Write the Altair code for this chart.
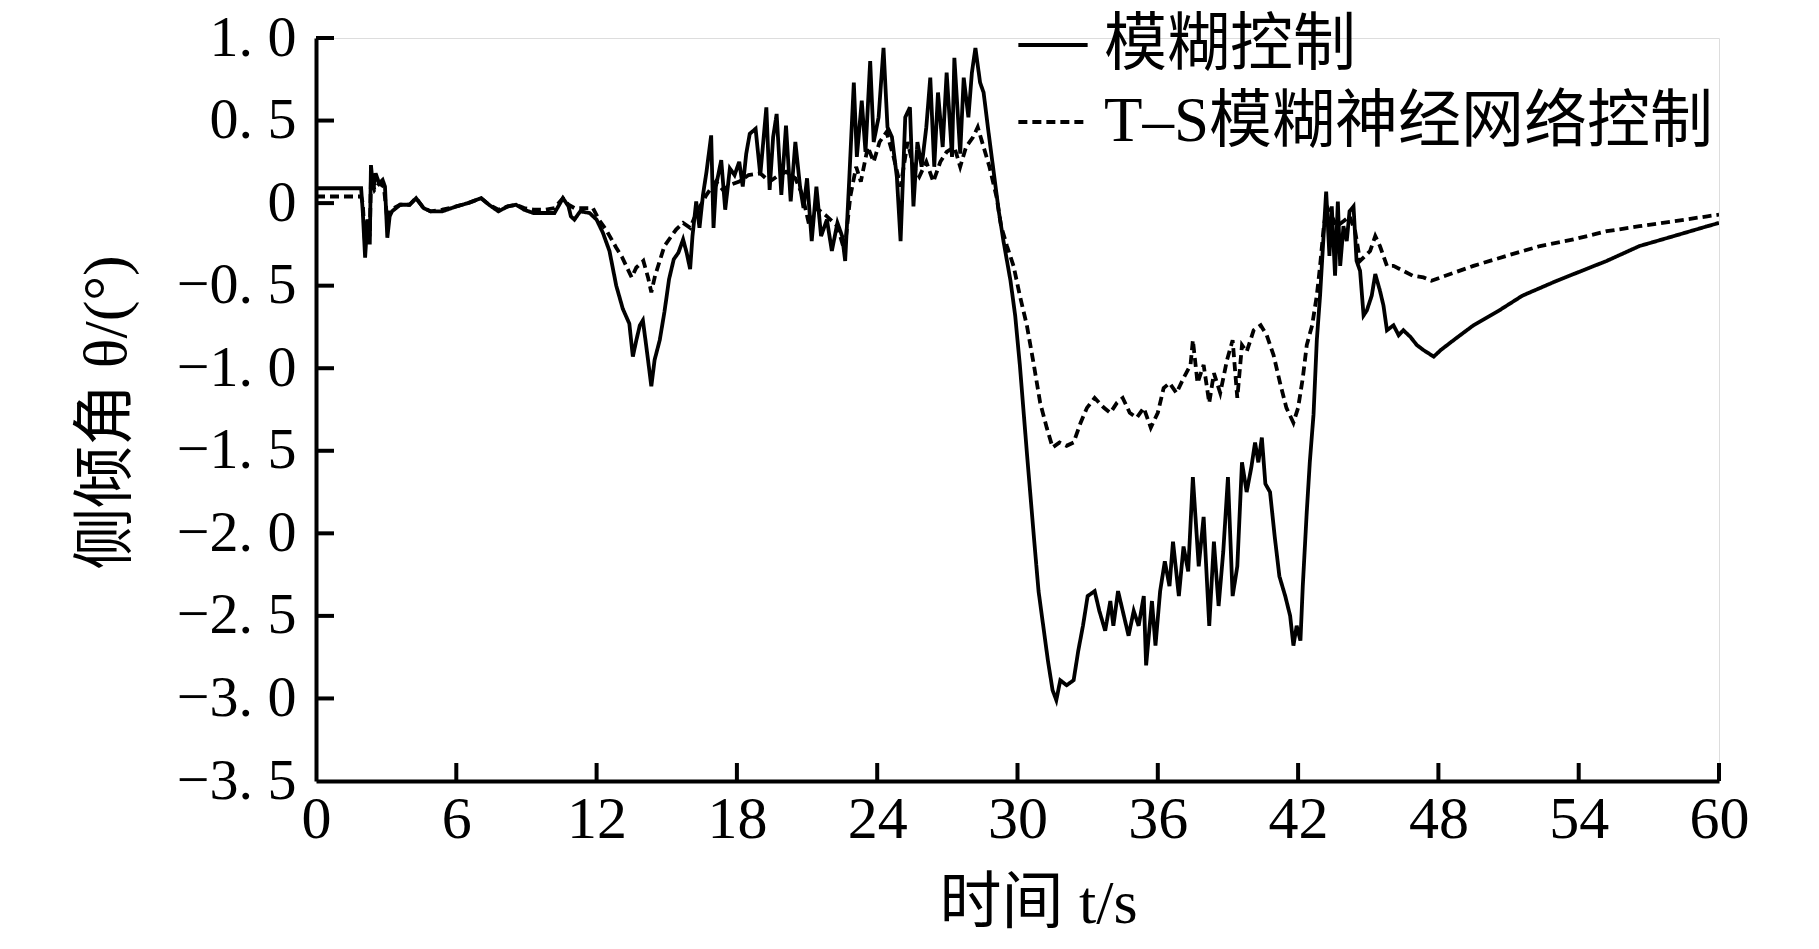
import altair as alt
import pandas as pd

# ---- data: (time s, roll angle deg) ----
FUZZY = [
    (0, 0.09), (1.93, 0.09), (2.0, -0.05), (2.1, -0.33), (2.2, -0.1), (2.3, -0.25),
    (2.35, 0.23), (2.45, 0.08), (2.55, 0.18), (2.7, 0.12), (2.85, 0.14), (2.95, 0.1),
    (3.05, -0.21), (3.15, -0.08), (3.25, -0.05), (3.6, -0.01), (4.0, -0.01), (4.28, 0.03),
    (4.6, -0.03), (4.9, -0.05), (5.4, -0.05), (6.0, -0.02), (6.5, 0.0), (7.06, 0.03),
    (7.4, -0.01), (7.8, -0.05), (8.2, -0.02), (8.56, -0.01), (8.9, -0.04), (9.3, -0.06),
    (9.8, -0.06), (10.2, -0.06), (10.56, 0.03), (10.8, -0.02), (10.9, -0.08), (11.05, -0.1),
    (11.3, -0.05), (11.7, -0.06), (12.0, -0.1), (12.27, -0.18), (12.55, -0.29), (12.84, -0.5),
    (13.12, -0.64), (13.4, -0.73), (13.55, -0.93), (13.7, -0.83), (13.85, -0.74), (13.98, -0.71),
    (14.2, -0.95), (14.34, -1.11), (14.48, -0.95), (14.7, -0.83), (14.9, -0.66), (15.1, -0.46),
    (15.3, -0.34), (15.5, -0.3), (15.7, -0.22), (15.85, -0.3), (16.0, -0.4), (16.1, -0.2),
    (16.26, 0.01), (16.4, -0.15), (16.55, 0.05), (16.7, 0.19), (16.9, 0.41), (17.0, -0.15),
    (17.1, 0.1), (17.33, 0.26), (17.5, -0.04), (17.7, 0.21), (17.9, 0.17), (18.1, 0.25),
    (18.25, 0.1), (18.4, 0.3), (18.55, 0.42), (18.8, 0.45), (19.0, 0.17), (19.26, 0.58),
    (19.4, 0.08), (19.55, 0.4), (19.7, 0.54), (19.9, 0.05), (20.1, 0.47), (20.3, 0.01),
    (20.5, 0.37), (20.7, 0.1), (20.85, -0.03), (21.0, 0.15), (21.2, -0.23), (21.4, 0.1),
    (21.6, -0.2), (21.85, -0.1), (22.06, -0.29), (22.3, -0.12), (22.5, -0.2), (22.63, -0.35),
    (22.8, 0.13), (23.0, 0.73), (23.13, 0.28), (23.34, 0.62), (23.5, 0.31), (23.7, 0.86),
    (23.85, 0.37), (24.06, 0.52), (24.27, 0.94), (24.44, 0.46), (24.63, 0.4), (24.84, 0.16),
    (25.0, -0.23), (25.2, 0.52), (25.4, 0.58), (25.55, -0.02), (25.72, 0.37), (25.9, 0.22),
    (26.1, 0.46), (26.27, 0.76), (26.44, 0.22), (26.6, 0.67), (26.8, 0.34), (26.97, 0.79),
    (27.2, 0.28), (27.3, 0.88), (27.55, 0.3), (27.7, 0.76), (27.9, 0.52), (28.05, 0.79),
    (28.2, 0.94), (28.4, 0.73), (28.55, 0.67), (28.76, 0.43), (28.98, 0.19), (29.2, -0.05),
    (29.4, -0.23), (29.7, -0.47), (29.9, -0.68), (30.1, -0.98), (30.4, -1.51), (30.7, -2.02),
    (30.9, -2.35), (31.1, -2.56), (31.3, -2.77), (31.5, -2.95), (31.66, -3.01), (31.83, -2.89),
    (32.1, -2.92), (32.4, -2.89), (32.6, -2.71), (32.8, -2.56), (33.0, -2.38), (33.3, -2.35),
    (33.5, -2.47), (33.75, -2.59), (33.97, -2.41), (34.1, -2.56), (34.3, -2.35), (34.5, -2.47),
    (34.75, -2.62), (34.97, -2.47), (35.18, -2.56), (35.4, -2.38), (35.5, -2.8), (35.75, -2.41),
    (35.9, -2.68), (36.1, -2.35), (36.3, -2.17), (36.5, -2.32), (36.65, -2.05), (36.9, -2.38),
    (37.1, -2.08), (37.3, -2.23), (37.5, -1.66), (37.75, -2.2), (37.96, -1.9), (38.2, -2.56),
    (38.4, -2.05), (38.6, -2.44), (38.8, -2.11), (39.0, -1.66), (39.2, -2.38), (39.4, -2.2),
    (39.6, -1.57), (39.8, -1.75), (40.0, -1.6), (40.16, -1.45), (40.3, -1.57), (40.45, -1.42),
    (40.6, -1.7), (40.8, -1.75), (41.0, -2.02), (41.2, -2.26), (41.45, -2.38), (41.66, -2.5),
    (41.8, -2.68), (41.94, -2.56), (42.1, -2.65), (42.2, -2.32), (42.37, -1.87), (42.5, -1.57),
    (42.66, -1.28), (42.8, -0.83), (42.94, -0.56), (43.1, -0.17), (43.2, 0.07), (43.34, -0.32),
    (43.44, -0.02), (43.58, -0.44), (43.7, 0.01), (43.8, -0.38), (43.94, -0.14), (44.08, -0.23),
    (44.2, -0.05), (44.37, -0.02), (44.5, -0.35), (44.65, -0.41), (44.8, -0.68), (44.94, -0.65),
    (45.15, -0.56), (45.3, -0.43), (45.5, -0.53), (45.65, -0.62), (45.8, -0.77), (46.08, -0.74),
    (46.3, -0.8), (46.5, -0.77), (46.8, -0.81), (47.08, -0.86), (47.36, -0.89), (47.8, -0.93),
    (48.1, -0.89), (48.65, -0.83), (49.5, -0.74), (50.6, -0.65), (51.6, -0.56), (53.07, -0.47),
    (53.78, -0.43), (55.2, -0.35), (56.6, -0.26), (58.06, -0.2), (59.5, -0.14), (60, -0.12),
]

TSFNN = [
    (0, 0.04), (1.93, 0.04), (2.0, 0.0), (2.1, -0.25), (2.2, -0.1), (2.3, -0.2),
    (2.35, 0.15), (2.5, 0.08), (2.7, 0.12), (2.9, 0.1), (3.05, -0.1), (3.2, -0.04),
    (3.6, -0.01), (4.0, -0.01), (4.28, 0.03), (4.6, -0.03), (4.9, -0.05), (5.4, -0.04),
    (6.0, -0.02), (6.5, 0.0), (7.06, 0.03), (7.4, -0.01), (7.8, -0.04), (8.2, -0.02),
    (8.56, -0.01), (8.9, -0.03), (9.3, -0.04), (9.8, -0.04), (10.2, -0.03), (10.56, 0.03),
    (10.8, -0.01), (11.05, -0.03), (11.84, -0.03), (12.1, -0.1), (12.4, -0.16), (12.84, -0.27),
    (13.1, -0.33), (13.5, -0.45), (13.7, -0.39), (14.0, -0.35), (14.2, -0.45), (14.34, -0.54),
    (14.5, -0.44), (14.7, -0.35), (14.9, -0.26), (15.2, -0.2), (15.4, -0.16), (15.7, -0.12),
    (16.0, -0.15), (16.3, -0.05), (16.7, 0.05), (17.1, 0.13), (17.4, 0.08), (17.7, 0.11),
    (18.1, 0.13), (18.5, 0.17), (19.0, 0.18), (19.4, 0.13), (19.7, 0.16), (20.1, 0.19),
    (20.5, 0.15), (20.8, 0.05), (21.1, -0.14), (21.4, -0.03), (21.85, -0.08), (22.3, -0.14),
    (22.6, -0.29), (22.85, 0.04), (23.1, 0.22), (23.3, 0.13), (23.6, 0.34), (23.85, 0.25),
    (24.1, 0.37), (24.4, 0.43), (24.7, 0.28), (25.0, 0.1), (25.3, 0.37), (25.55, 0.22),
    (25.8, 0.16), (26.1, 0.25), (26.4, 0.13), (26.7, 0.25), (26.97, 0.31), (27.3, 0.34),
    (27.55, 0.22), (27.8, 0.34), (28.1, 0.4), (28.3, 0.46), (28.55, 0.34), (28.8, 0.22),
    (29.1, 0.04), (29.3, -0.14), (29.55, -0.26), (29.83, -0.38), (30.1, -0.56), (30.4, -0.74),
    (30.7, -0.98), (30.97, -1.21), (31.25, -1.36), (31.5, -1.48), (31.8, -1.45), (32.1, -1.47),
    (32.4, -1.45), (32.7, -1.33), (32.97, -1.24), (33.3, -1.18), (33.7, -1.24), (33.97, -1.27),
    (34.25, -1.21), (34.5, -1.18), (34.8, -1.27), (35.1, -1.3), (35.4, -1.24), (35.7, -1.36),
    (36.0, -1.27), (36.25, -1.12), (36.5, -1.09), (36.8, -1.15), (37.1, -1.06), (37.4, -0.98),
    (37.5, -0.83), (37.7, -1.09), (37.96, -0.98), (38.2, -1.21), (38.4, -1.03), (38.67, -1.15),
    (38.96, -0.95), (39.2, -0.83), (39.4, -1.18), (39.6, -0.86), (39.8, -0.9), (40.1, -0.77),
    (40.4, -0.74), (40.66, -0.8), (40.95, -0.92), (41.23, -1.09), (41.5, -1.24), (41.8, -1.33),
    (42.0, -1.24), (42.2, -1.06), (42.37, -0.86), (42.6, -0.74), (42.8, -0.56), (42.94, -0.38),
    (43.1, -0.14), (43.23, -0.02), (43.44, -0.08), (43.66, -0.14), (43.94, -0.11), (44.2, -0.08),
    (44.44, -0.17), (44.65, -0.35), (44.87, -0.32), (45.08, -0.29), (45.3, -0.2), (45.5, -0.26),
    (45.8, -0.38), (46.08, -0.38), (46.5, -0.41), (46.9, -0.44), (47.36, -0.45), (47.7, -0.47),
    (48.1, -0.45), (49.5, -0.38), (50.9, -0.32), (52.35, -0.26), (53.78, -0.22), (55.2, -0.17),
    (56.6, -0.14), (58.06, -0.11), (59.5, -0.08), (60, -0.07),
]

SERIES_NAMES = ["模糊控制", "T–S模糊神经网络控制"]
X_TICKS = [0, 6, 12, 18, 24, 30, 36, 42, 48, 54, 60]
Y_TICKS = [1.0, 0.5, 0.0, -0.5, -1.0, -1.5, -2.0, -2.5, -3.0, -3.5]
X_TITLE = "时间 t/s"
Y_TITLE = "侧倾角 θ/(°)"

FONT = "Liberation Serif, Noto Sans CJK SC"
W, H = 1403, 743
TICK_LEN = 18

rows = []
for name, pts in zip(SERIES_NAMES, [FUZZY, TSFNN]):
    for i, (t, v) in enumerate(pts):
        rows.append({"t": t, "v": v, "series": name, "i": i})
df = pd.DataFrame(rows)

xscale = alt.Scale(domain=[0, 60], nice=False, zero=False)
yscale = alt.Scale(domain=[-3.5, 1.0], nice=False, zero=False)

y_label_expr = ("datum.value == 0 ? '0' : "
                "replace(replace(format(datum.value, '.1f'), '.', '. '), '-', '−')")

lines = alt.Chart(df).mark_line(color="black", strokeWidth=3.8, clip=True).encode(
    x=alt.X("t:Q", scale=xscale,
            axis=alt.Axis(values=X_TICKS, title=X_TITLE, format="d", ticks=False,
                          grid=False, domainColor="black", domainWidth=4,
                          labelFont=FONT, labelFontSize=60, labelColor="black",
                          labelPadding=9, titleFont=FONT, titleFontSize=62,
                          titleFontWeight="normal", titleColor="black",
                          titlePadding=24, titleX=722, labelFlush=False)),
    y=alt.Y("v:Q", scale=yscale,
            axis=alt.Axis(values=Y_TICKS, title=Y_TITLE, ticks=False, grid=False,
                          domainColor="black", domainWidth=4, labelExpr=y_label_expr,
                          labelFont=FONT, labelFontSize=58, labelColor="black",
                          labelPadding=20, titleFont=FONT, titleFontSize=62,
                          titleFontWeight="normal", titleColor="black",
                          titlePadding=38, titleY=374, labelFlush=False)),
    strokeDash=alt.StrokeDash(
        "series:N",
        scale=alt.Scale(domain=SERIES_NAMES, range=[[1, 0], [9, 5]]),
        sort=SERIES_NAMES,
        legend=alt.Legend(title=None, orient="none", legendX=700, legendY=-30,
                          symbolType="stroke", symbolSize=4800, symbolStrokeWidth=4,
                          symbolStrokeColor="black", labelFont=FONT, labelFontSize=63,
                          labelColor="black", labelOffset=14, rowPadding=8,
                          labelLimit=1000, padding=0),
    ),
    detail="series:N",
    order="i:Q",
)

xt = pd.DataFrame({"t": X_TICKS[1:]})
x_ticks = alt.Chart(xt).mark_rule(color="black", strokeWidth=4).encode(
    x=alt.X("t:Q", scale=xscale),
    y=alt.value(H),
    y2=alt.value(H - TICK_LEN),
)
yt = pd.DataFrame({"v": Y_TICKS[:-1]})
y_ticks = alt.Chart(yt).mark_rule(color="black", strokeWidth=4).encode(
    y=alt.Y("v:Q", scale=yscale),
    x=alt.value(0),
    x2=alt.value(TICK_LEN),
)

chart = alt.layer(lines, x_ticks, y_ticks).properties(
    width=W, height=H,
    autosize=alt.AutoSizeParams(type="none"),
    padding={"left": 308, "top": 30, "right": 92, "bottom": 160},
).configure_view(stroke=None).configure(background="white")

chart.save("out.html", embed_options={"renderer": "svg", "actions": False})
